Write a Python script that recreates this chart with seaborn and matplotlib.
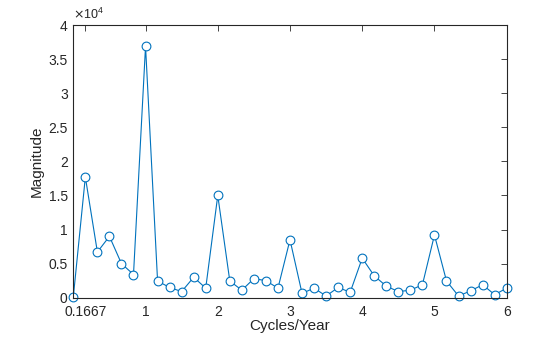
import numpy as np
import pandas as pd
import matplotlib
matplotlib.use("Agg")
import matplotlib.pyplot as plt
import seaborn as sns
from matplotlib.ticker import FuncFormatter

# Frequencies (cycles/year) in steps of 1/6
freq = [i / 6 for i in range(37)]
magnitude = [
    100, 17700, 6700, 9000, 5000, 3400,
    36900, 2450, 1500, 900, 3000, 1400,
    15000, 2450, 1100, 2800, 2500, 1400,
    8500, 640, 1400, 250, 1500, 800,
    5800, 3200, 1700, 900, 1100, 1900,
    9200, 2450, 250, 1000, 1900, 450,
    1400,
]
xtick_vals = [1 / 6, 1, 2, 3, 4, 5, 6]
xtick_labels = ["0.1667", "1", "2", "3", "4", "5", "6"]
ytick_vals = [0, 5000, 10000, 15000, 20000, 25000, 30000, 35000, 40000]

sns.set_theme(style="white")
plt.rcParams['font.family'] = ['Liberation Sans', 'DejaVu Sans']

df = pd.DataFrame({"Cycles/Year": freq, "Magnitude": magnitude})

fig = plt.figure(figsize=(5.6, 3.37), dpi=100)
ax = fig.add_axes([0.1309, 0.1166, 0.7739, 0.8092])
color = "#0072BD"
sns.lineplot(data=df, x="Cycles/Year", y="Magnitude", ax=ax, color=color,
             linewidth=0.8, marker="o", markersize=6.3, markerfacecolor="white",
             markeredgecolor=color, markeredgewidth=0.8, clip_on=False)

ax.set_xlim(0, 6)
ax.set_ylim(0, 40000)
ax.set_xticks(xtick_vals)
ax.set_xticklabels(xtick_labels)
ax.set_yticks(ytick_vals)
ax.yaxis.set_major_formatter(FuncFormatter(lambda v, p: f"{v/1e4:g}"))

for s in ax.spines.values():
    s.set_color("#262626")
    s.set_linewidth(0.8)
ax.tick_params(direction="in", length=4, width=0.6, colors="#262626",
               labelsize=10, top=True, right=True)
ax.tick_params(axis="y", pad=4)
ax.tick_params(axis="x", pad=5)
ax.set_xlabel("Cycles/Year", fontsize=11, color="#262626", labelpad=0)
ax.set_ylabel("Magnitude", fontsize=11, color="#262626", labelpad=3)
ax.text(0.0, 1.012, r"$\times\mathregular{10^{4}}$", transform=ax.transAxes,
        fontsize=9, color="#262626", ha="left", va="bottom")

fig.savefig("out.png", dpi=100)
